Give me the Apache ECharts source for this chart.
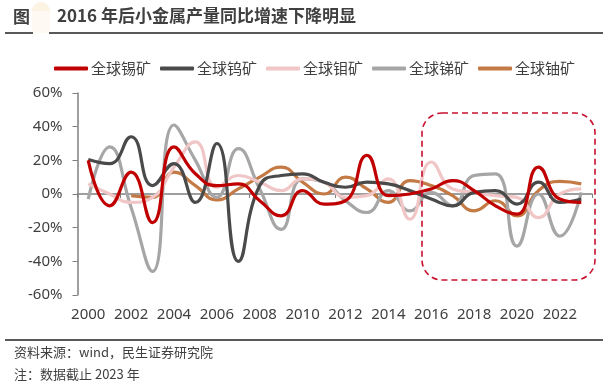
<!DOCTYPE html>
<html>
<head>
<meta charset="utf-8">
<script src="https://cdn.jsdelivr.net/npm/echarts@6/dist/echarts.min.js"></script>
<style>
html,body{margin:0;padding:0;background:#fff;}
#chart{width:603px;height:383px;}
</style>
</head>
<body>
<div id="chart"></div>
<script>
var years = ['2000','2001','2002','2003','2004','2005','2006','2007','2008','2009','2010','2011','2012','2013','2014','2015','2016','2017','2018','2019','2020','2021','2022','2023'];
var seriesNames = ['全球锡矿','全球钨矿','全球钼矿','全球锑矿','全球铀矿'];
var tin      = [20,-7,13,-17,28,12,5,6,-4,-13,2,-6,-4,23,-1,0,3,8,2,-7,-12,16,-3,-5];
var tungsten = [20.5,18,34,5,18,-5,30,-40,5,11,12,7,4,7,6,2,-3,-7,1,2,-6,7,-5,-3];
var molybdenum = [6,0,-5,-2,16,31,4,11,7,2,9,7,-2,-1,9,-15,19,3,1,-1,-2,-14,0,3];
var antimony = [-3,28,-8,-46,41,20,-2,27,3,-21,9,7,-4,-11,2,-10,1,-7,11,12,-31,0,-25,1];
var uranium  = [null,null,-1,-2,13,5,-3.5,3,10,16,7,0,10,3,-5,8,5,-1,-10,-4,-13,2,7.5,6];
var yTicks = [-60,-40,-20,0,20,40,60];

var colors = ['#C00000','#4A4A4A','#F0C6C6','#A6A6A6','#C47A44'];
var dataList = [tin, tungsten, molybdenum, antimony, uranium];

var chart = echarts.init(document.getElementById('chart'));
var font = '"Noto Sans","Noto Sans CJK SC",sans-serif';
var series = seriesNames.map(function(n,i){
  return {
    name:n, type:'line', data:dataList[i], smooth:0.5, showSymbol:false, symbol:'none',
    xAxisIndex:0, yAxisIndex:0, z: 10-i,
    lineStyle:{color:colors[i], width:3.2}, itemStyle:{color:colors[i]}
  };
});
chart.setOption({
  animation:false,
  textStyle:{fontFamily:font},
  legend:{
    top:56, left:49, itemWidth:34, itemHeight:4, itemGap:9, icon:'roundRect',
    textStyle:{fontSize:15, color:'#404040', fontFamily:'"Noto Sans CJK SC",sans-serif', padding:[0,0,0,-2]},
    data:seriesNames
  },
  grid:{left:77.5, right:11, top:93, bottom:88, containLabel:false},
  xAxis:[{
    type:'category', data:years, boundaryGap:true,
    axisLine:{onZero:true, lineStyle:{color:'#7f7f7f', width:1.5}},
    axisTick:{show:true, interval:1, length:4, lineStyle:{color:'#7f7f7f'}},
    axisLabel:{show:false}, splitLine:{show:false}
  },{
    type:'category', data:years, boundaryGap:true, position:'bottom',
    axisLine:{show:false, onZero:false}, axisTick:{show:false},
    axisLabel:{show:true, interval:1, margin:12, fontSize:15, color:'#404040', fontFamily:font},
    splitLine:{show:false}
  }],
  yAxis:{
    type:'value', min:-60, max:60, interval:20,
    axisLine:{show:true, lineStyle:{color:'#7f7f7f', width:1.5}},
    axisTick:{show:true, length:5, lineStyle:{color:'#7f7f7f'}},
    axisLabel:{formatter:'{value}%', fontSize:15, color:'#404040', margin:15, fontFamily:font},
    splitLine:{show:false}
  },
  series:series,
  graphic:[
    {type:'circle', shape:{cx:41, cy:11, r:9}, style:{fill:'#FDF3E3'}, z:1},
    {type:'rect', shape:{x:32, y:11, width:18, height:22}, style:{fill:'#FEF9F2'}, z:1},
    {type:'text', left:13, top:8, style:{text:'图', font:'bold 17px "Noto Sans CJK SC"', fill:'#404040'}, z:5},
    {type:'text', left:57, top:7, style:{text:'2016 年后小金属产量同比增速下降明显', font:'bold 17px "Noto Sans CJK SC"', fill:'#404040'}, z:5},
    {type:'line', shape:{x1:5, y1:33, x2:33, y2:33}, style:{stroke:'#595959', lineWidth:2}, z:5},
    {type:'line', shape:{x1:49, y1:33, x2:603, y2:33}, style:{stroke:'#595959', lineWidth:2}, z:5},
    {type:'rect', shape:{x:422, y:113, width:173, height:167, r:20}, style:{fill:'none', stroke:'#C8102E', lineWidth:1.6, lineDash:[6,4]}, z:20},
    {type:'line', shape:{x1:5, y1:340, x2:603, y2:340}, style:{stroke:'#595959', lineWidth:2}, z:5},
    {type:'text', left:14, top:346, style:{text:'资料来源：wind，民生证券研究院', font:'13px "Noto Sans CJK SC"', fill:'#404040'}, z:5},
    {type:'text', left:14, top:368, style:{text:'注：数据截止 2023 年', font:'13px "Noto Sans CJK SC"', fill:'#404040'}, z:5}
  ]
});
</script>
</body>
</html>
